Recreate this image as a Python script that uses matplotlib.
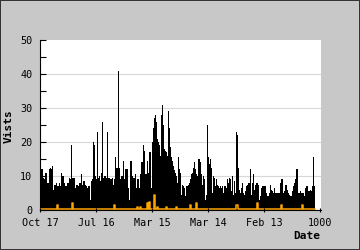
import matplotlib
matplotlib.use("Agg")
import matplotlib.pyplot as plt
from matplotlib.patches import Rectangle
import numpy as np

# Visits, one value per sample (newest on the left)
visits = [
    12, 12, 12, 9.5, 9, 11, 11, 8, 8, 12, 12.5, 12, 13, 6, 7.5, 7.5, 8, 7, 7, 8, 7, 11, 10, 10, 8,
    7, 7, 8, 8, 9.5, 9, 19, 9.5, 9.5, 9.5, 6.5, 7.5, 7.5, 7, 8, 8, 10.5, 7.5, 8.5, 8.5, 7.5, 7, 6.5, 7, 7,
    3, 8.5, 9, 20, 19, 10, 9, 23, 9.5, 10, 8.5, 11, 26, 9.5, 10, 10, 9.5, 23, 9.5, 9.5,
    9, 9, 9.5, 7.5, 9, 15.5, 12.5, 12.5, 41, 12.5, 9, 10, 10, 14.5, 9, 12, 12, 12, 6.5, 3,
    14.5, 14.5, 10, 9.5, 9.5, 10.5, 6.5, 9, 9, 6.5, 10.5, 14, 14, 19, 17.5, 10.5, 10.5, 14.5, 11, 17,
    17, 6.5, 20, 24, 27, 28, 26, 21, 20, 19, 16, 28, 31, 25, 18, 17.5, 17, 16, 29, 24,
    18.5, 15.5, 14.5, 13, 11.7, 11, 10, 8, 15.5, 12,
    11, 4.5, 7.5, 7, 6.5, 4, 7, 7, 7.5, 8, 9, 10.5, 11, 12.5, 14, 12, 10.5, 10, 15, 15,
    14, 10.5, 7.5, 10, 9, 3, 4.5, 25, 15.5, 13.5, 15, 12.5, 5, 10, 9.5, 7, 9, 7.5, 7, 6.5,
    7, 6.5, 7, 5, 7, 7, 6.5, 9, 8, 9.5, 9, 5.5, 10, 4.5, 8.5, 5, 23, 22, 12.5, 6,
    5, 6.5, 8, 5, 4.5, 5.5, 7, 7.5, 8, 8,
    12, 4.5, 8, 10.5, 6, 7.5, 8, 8, 7.5, 3, 4, 6.5, 7, 7, 7, 7, 5, 4, 4, 5,
    7.5, 6, 5.5, 5, 6.5, 5, 5, 5, 5, 5, 8, 9, 9, 5, 5.5, 7.5, 7.5, 6, 5, 4.5,
    4, 4, 5.5, 7, 8, 9, 12, 12, 5, 5, 5.5, 5, 5, 5, 4, 6.5, 7, 7, 5.5, 5.5,
    6, 5.5, 7, 15.5, 7,
]

# Second series (orange), same samples
second = [
    0.3, 0.3, 0.3, 0.3, 0.3, 0.3, 0.3, 0.3, 0.3, 0.3, 0.3, 0.3, 0.3, 0.3, 0.3, 0.3, 0.3, 1.5, 0.3, 0.3,
    0.3, 0.3, 0.3, 0.3, 0.3, 0.3, 0.3, 0.3, 0.3, 0.3, 0.3, 0.3, 2, 0.3, 0.3, 0.3, 0.3, 0.3, 0.3, 0.3,
    0.3, 0.3, 0.3, 0.3, 0.3, 0.3, 0.3, 0.3, 0.3, 0.3, 0.3, 0.3, 0.3, 0.3, 0.3, 0.3, 0.3, 0.3, 0.3, 0.3,
    0.3, 0.3, 0.3, 0.3, 0.3, 0.3, 0.3, 0.3, 0.3, 0.3, 0.3, 0.3, 0.3, 0.3, 1.5, 0.3, 0.3, 0.3, 0.3, 0.3,
    0.3, 0.3, 0.3, 0.3, 0.3, 0.3, 0.3, 0.3, 0.3, 0.3, 0.3, 0.3, 0.3, 0.3, 0.3, 0.3, 0.3, 1, 0.3, 0.3,
    1, 0.3, 0.3, 0.3, 0.3, 0.3, 0.3, 2, 0.3, 2.5, 0.3, 0.3, 0.3, 0.3, 4.5, 0.3, 0.3, 1, 0.3, 0.3,
    0.3, 0.3, 0.3, 0.3, 0.3, 0.3, 1, 0.3, 0.3, 0.3, 0.3, 0.3, 0.3, 0.3, 0.3, 0.3, 1, 0.3, 0.3, 0.3,
    0.3, 0.3, 0.3, 0.3, 0.3, 0.3, 0.3, 0.3, 0.3, 0.3, 1.5, 0.3, 0.3, 0.3, 0.3, 0.3, 2, 0.3, 0.3, 0.3,
    0.3, 0.3, 0.3, 0.3, 0.3, 0.3, 0.3, 0.3, 0.3, 0.3, 0.3, 0.3, 0.3, 0.3, 0.3, 0.3, 0.3, 0.3, 0.3, 0.3,
    0.3, 0.3, 0.3, 0.3, 0.3, 0.3, 0.3, 0.3, 0.3, 0.3, 0.3, 0.3, 0.3, 0.3, 0.3, 0.3, 1.5, 1.5, 0.3, 0.3,
    0.3, 0.3, 0.3, 0.3, 0.3, 0.3, 0.3, 0.3, 0.3, 0.3, 0.3, 0.3, 0.3, 0.3, 0.3, 0.3, 0.3, 2, 0.3, 0.3,
    0.3, 0.3, 0.3, 0.3, 0.3, 0.3, 0.3, 0.3, 0.3, 0.3, 0.3, 0.3, 0.3, 0.3, 0.3, 0.3, 0.3, 0.3, 0.3, 0.3,
    0.3, 1.5, 0.3, 0.3, 0.3, 0.3, 0.3, 0.3, 0.3, 0.3, 0.3, 0.3, 0.3, 0.3, 0.3, 0.3, 0.3, 0.3, 0.3, 0.3,
    0.3, 0.3, 1.5, 0.3, 0.3, 0.3, 0.3, 0.3, 0.3, 0.3, 0.3, 0.3, 0.3, 0.3, 0.3,
]

tick_positions = [0, 200, 400, 600, 800, 1000]
tick_labels = ["Oct 17", "Jul 16", "Mar 15", "Mar 14", "Feb 13", "1000"]
y_ticks = [0, 10, 20, 30, 40, 50]

n = len(visits)
step = 1000.0 / 280.0
x = np.arange(n) * step
x2 = np.arange(len(second)) * step

plt.rcParams["font.family"] = ["DejaVu Sans Mono"]

fig = plt.figure(figsize=(3.6, 2.5), dpi=100)
fig.patch.set_facecolor("#c8c8c8")

# thin frame around the whole figure (half of the stroke is outside the canvas)
fig.patches.append(Rectangle((0, 0), 1, 1, transform=fig.transFigure, fill=False,
                             edgecolor="#333333", linewidth=1.44, zorder=10))

ax = fig.add_axes([40 / 360, 1 - 210 / 250, 281 / 360, 170 / 250])
ax.set_facecolor("white")
ax.set_axisbelow(False)

for yv in y_ticks[1:-1]:
    ax.axhline(yv, color="#d8d8d8", linewidth=0.8, zorder=0.5)

ax.bar(x, visits, width=step * 1.05, align="edge", color="black", linewidth=0, zorder=2)
ax.plot(x2 + step / 2, second, color="#ffa500", linewidth=1.1, zorder=2.2,
        drawstyle="steps-mid")

ax.set_xlim(0, 1000 * 281 / 280)
ax.set_ylim(0, 50)

ax.set_xticks(tick_positions)
ax.set_xticklabels(tick_labels)
ax.set_yticks(y_ticks)
ax.set_yticks([5, 15, 25, 35, 45], minor=True)

ax.tick_params(axis="y", which="both", direction="in", length=4, width=0.8,
               pad=5.5, labelsize=7.3, colors="black")
ax.tick_params(axis="x", which="both", direction="inout", length=3, width=0.8,
               pad=4, labelsize=7.3, colors="black")

for s in ["top", "right"]:
    ax.spines[s].set_visible(False)
for s in ["left", "bottom"]:
    ax.spines[s].set_linewidth(0.8)
    ax.spines[s].set_color("black")
    ax.spines[s].set_zorder(2.1)

fig.text(9 / 360, 1 - 126 / 250, "Vists", rotation=90, ha="center", va="center",
         fontsize=8, fontweight="bold")
fig.text(320 / 360, 1 - 236 / 250, "Date", ha="right", va="center",
         fontsize=8, fontweight="bold")

fig.savefig("out.png", dpi=100, facecolor=fig.get_facecolor())
